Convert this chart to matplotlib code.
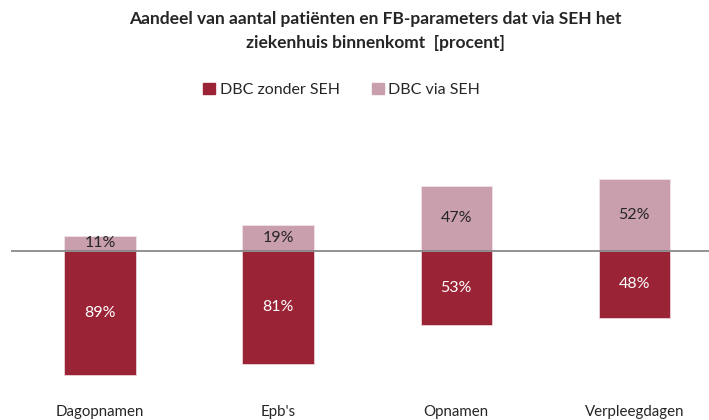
import matplotlib.pyplot as plt
from matplotlib.patches import Patch
from matplotlib.transforms import blended_transform_factory

categories = ["Dagopnamen", "Epb's", "Opnamen", "Verpleegdagen"]
zonder_seh = [89, 81, 53, 48]
via_seh = [11, 19, 47, 52]
series_names = ["DBC zonder SEH", "DBC via SEH"]

DARK = "#9a2336"
LIGHT = "#c99fad"

plt.rcParams["font.family"] = ["Lato", "DejaVu Sans"]

fig = plt.figure(figsize=(7.09, 4.2), dpi=100)
# axes area in pixels: left 11, right 709, top 130, bottom 395
ax = fig.add_axes([11 / 709, 1 - 395 / 420, 698 / 709, 265 / 420])

x = list(range(len(categories)))
ax.bar(x, [-v for v in zonder_seh], width=0.4, color=DARK, edgecolor="#e9d3d8", linewidth=0.6)
ax.bar(x, via_seh, width=0.4, color=LIGHT, edgecolor="#efe3e6", linewidth=0.6)
ax.axhline(0, color="#7f7f7f", linewidth=1.2)

for xi, lo, hi in zip(x, zonder_seh, via_seh):
    ax.text(xi, -lo / 2, f"{lo}%", ha="center", va="center", color="white", fontsize=11.5)
    ax.text(xi, hi / 2, f"{hi}%", ha="center", va="center", color="#262626", fontsize=11.5)

ax.set_xlim(-0.5, 3.42)
ax.set_ylim(-103.6, 87)
ax.axis("off")

trans = blended_transform_factory(ax.transData, fig.transFigure)
for xi, cat in zip(x, categories):
    ax.text(xi, 1 - 412 / 420, cat, transform=trans, ha="center", va="center",
            fontsize=10.8, color="#262626")

fig.text(375 / 709, 1 - 31 / 420,
         "Aandeel van aantal patiënten en FB-parameters dat via SEH het\nziekenhuis binnenkomt  [procent]",
         ha="center", va="center", fontsize=12.5, fontweight="bold", color="#262626",
         linespacing=1.55)

handles = [Patch(color=DARK), Patch(color=LIGHT)]
fig.legend(handles, series_names, loc="center", bbox_to_anchor=(341.5 / 709, 1 - 90 / 420),
           ncol=2, frameon=False, fontsize=11.5, handlelength=0.75, handleheight=0.75,
           handletextpad=0.3, columnspacing=2.0, labelcolor="#262626")

fig.savefig("out.png", dpi=100)
